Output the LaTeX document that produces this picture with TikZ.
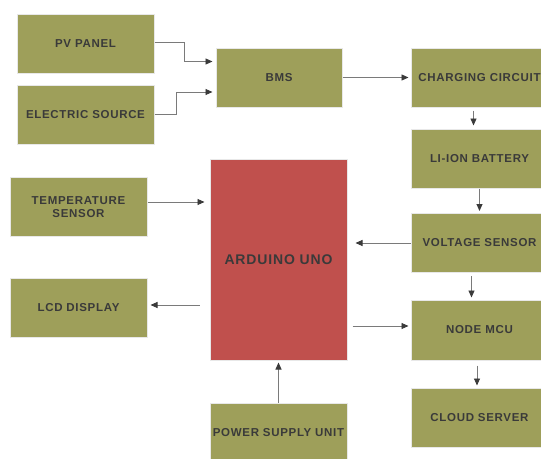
\documentclass[tikz,border=0pt]{standalone}
\usepackage{fontspec}
\setmainfont{Liberation Sans}[LetterSpace=6]
\usepackage{tikz}
\usetikzlibrary{arrows.meta}
\definecolor{olive}{HTML}{9E9F5A}
\definecolor{unored}{HTML}{C0504D}
\definecolor{txt}{HTML}{3A3A3A}
\definecolor{wire}{HTML}{7A7A7A}

\begin{document}
\begin{tikzpicture}[x=1pt,y=-1pt]
		\useasboundingbox (0,0) rectangle (541,458);
		\clip (0,0) rectangle (541,458);
		\tikzstyle{block}=[rectangle,fill=olive,draw=white!82!gray,line width=1pt,text=txt,align=center,inner sep=1pt,font=\fontsize{11.5}{12.5}\selectfont\bfseries,minimum width=137pt,minimum height=59pt]
		\tikzstyle{arr}=[draw=wire,line width=0.9pt,-{Triangle[length=7pt,width=6pt,color=txt]}]
		% left column
		\node[block] (b_pv) at (85.5,44) {PV PANEL};
		\node[block] (b_es) at (85.5,114.5) {ELECTRIC SOURCE};
		\node[block] (b_temp) at (78.5,207) {TEMPERATURE\\SENSOR};
		\node[block] (b_lcd) at (78.5,307.5) {LCD DISPLAY};
		% middle column
		\node[block,minimum width=126pt] (b_bms) at (279,77.5) {BMS};
		\node[block,fill=unored,minimum height=201pt,font=\fontsize{14}{16}\selectfont\bfseries] (b_uno) at (278.5,259.5) {ARDUINO UNO};
		\node[block,minimum height=60pt] (b_psu) at (278.5,433) {POWER SUPPLY UNIT};
		% right column
		\node[block] (b_chg) at (479.5,77.5) {CHARGING CIRCUIT};
		\node[block] (b_bat) at (479.5,158.5) {LI-ION BATTERY};
		\node[block] (b_volt) at (479.5,243) {VOLTAGE SENSOR};
		\node[block,minimum height=60pt] (b_mcu) at (479.5,330) {NODE MCU};
		\node[block] (b_cloud) at (479.5,417.5) {CLOUD SERVER};
		% connections
		\draw[arr,shorten >=3pt] ([yshift=2pt]b_pv.east) -- ++(30,0) |- ([yshift=16pt]b_bms.west);
		\draw[arr,shorten >=3pt] (b_es.east) -- ++(22,0) |- ([yshift=-14.5pt]b_bms.west);
		\draw[arr,shorten >=2pt] (b_bms.east) -- (b_chg.west);
		\draw[arr,shorten <=3pt,shorten >=3pt] ([xshift=-6pt]b_chg.south) -- ([xshift=-6pt]b_bat.north);
		\draw[arr,shorten >=2pt] (b_bat.south) -- (b_volt.north);
		\draw[arr,shorten >=8pt] (b_volt.west) -- (b_volt.west -| b_uno.east);
		\draw[arr,shorten <=3pt,shorten >=2pt] ([xshift=-8pt]b_volt.south) -- ([xshift=-8pt]b_mcu.north);
		\draw[arr,shorten <=5pt,shorten >=2pt] ([yshift=4pt]b_mcu.west -| b_uno.east) -- ([yshift=4pt]b_mcu.west);
		\draw[arr,shorten <=5pt,shorten >=2pt] ([xshift=-2.5pt]b_mcu.south) -- ([xshift=-2.5pt]b_cloud.north);
		\draw[arr,shorten >=5pt] ([yshift=5pt]b_temp.east) -- ([yshift=5pt]b_temp.east -| b_uno.west);
		\draw[arr,shorten <=10pt,shorten >=3pt] ([yshift=2.5pt]b_lcd.east -| b_uno.west) -- ([yshift=2.5pt]b_lcd.east);
		\draw[arr,shorten >=2pt] (b_psu.north) -- (b_uno.south);
	\end{tikzpicture}
\end{document}
